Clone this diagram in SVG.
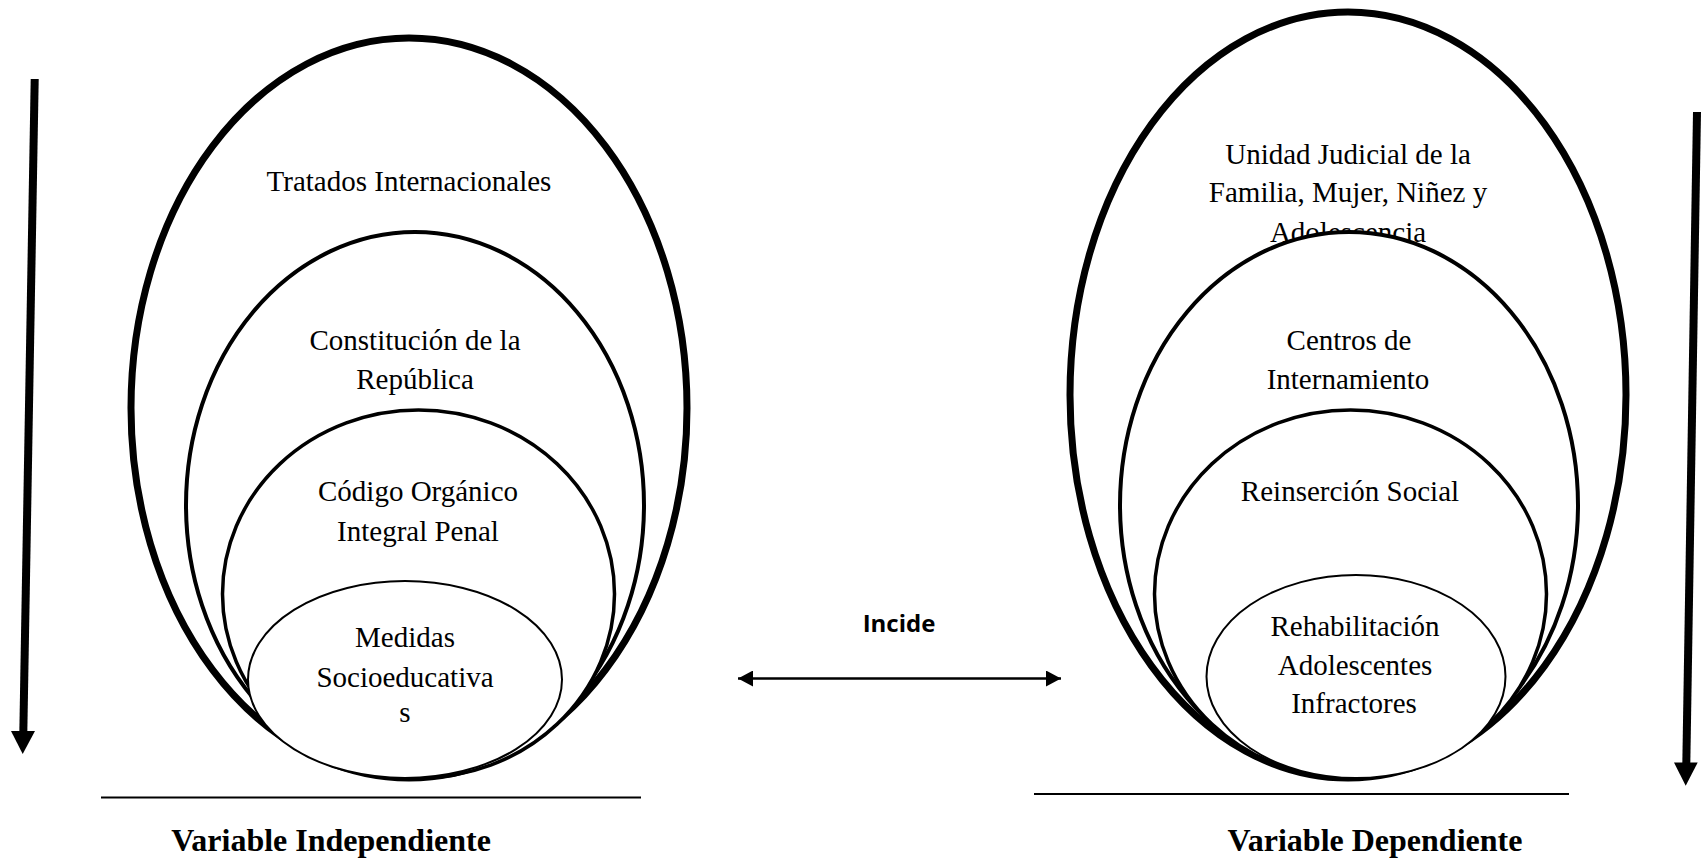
<svg xmlns="http://www.w3.org/2000/svg" width="1708" height="861" viewBox="0 0 1708 861">
<style>
.e{fill:#fff;stroke:#000}
.o{stroke-width:7}
.s{stroke-width:4}
.t3{stroke-width:3.5}
.i{stroke-width:2}
.t{font-family:"Liberation Serif","Times New Roman",serif;font-size:29px;fill:#000;text-anchor:middle}
.b{font-family:"Liberation Serif","Times New Roman",serif;font-size:32px;font-weight:bold;fill:#000;text-anchor:middle}
.c{font-family:"Open Sans","Liberation Sans",sans-serif;font-size:24px;font-weight:bold;fill:#000;text-anchor:middle}
.ln{stroke:#000;fill:none}
</style>
<defs>
<marker id="ah" viewBox="0 0 15 16" refX="15" refY="8" markerWidth="15" markerHeight="16" markerUnits="userSpaceOnUse" orient="auto-start-reverse">
<path d="M0,0 L15,8 L0,16 Z" fill="#000"/>
</marker>
</defs>
<rect width="1708" height="861" fill="#fff"/>

<g id="left">
<g id="tratados">
<ellipse class="e o" cx="409" cy="408" rx="278" ry="370"/>
<text class="t" x="409" y="191">Tratados Internacionales</text>
</g>
<g id="constitucion">
<ellipse class="e s" cx="415" cy="505" rx="229" ry="273"/>
<text class="t" x="415" y="350">Constitución de la</text>
<text class="t" x="415" y="389">República</text>
</g>
<g id="codigo">
<ellipse class="e t3" cx="418.5" cy="594" rx="196" ry="184"/>
<text class="t" x="418" y="501">Código Orgánico</text>
<text class="t" x="418" y="541">Integral Penal</text>
</g>
<g id="medidas">
<ellipse class="e i" cx="405" cy="679.5" rx="157" ry="98.5"/>
<text class="t" x="405" y="647">Medidas</text>
<text class="t" x="405" y="687">Socioeducativa</text>
<text class="t" x="405" y="722">s</text>
</g>
<g id="label-indep">
<text class="b" x="331" y="851">Variable Independiente</text>
</g>
</g>

<g id="right">
<g id="unidad">
<ellipse class="e o" cx="1348" cy="395" rx="278" ry="383"/>
<text class="t" x="1348" y="164">Unidad Judicial de la</text>
<text class="t" x="1348" y="202">Familia, Mujer, Niñez y</text>
<text class="t" x="1348" y="242">Adolescencia</text>
</g>
<g id="centros">
<ellipse class="e s" cx="1349" cy="505" rx="229" ry="273"/>
<text class="t" x="1349" y="350">Centros de</text>
<text class="t" x="1348" y="389">Internamiento</text>
</g>
<g id="reinsercion">
<ellipse class="e t3" cx="1350.5" cy="594" rx="196" ry="184"/>
<text class="t" x="1350" y="501">Reinserción Social</text>
</g>
<g id="rehabilitacion">
<ellipse class="e i" cx="1356" cy="676.5" rx="149.5" ry="101.5"/>
<text class="t" x="1355" y="636">Rehabilitación</text>
<text class="t" x="1355" y="675">Adolescentes</text>
<text class="t" x="1354" y="713">Infractores</text>
</g>
<g id="label-dep">
<text class="b" x="1375" y="851">Variable Dependiente</text>
</g>
</g>

<g id="connectors">
<line class="ln" x1="101" y1="797.5" x2="641" y2="797.5" stroke-width="2"/>
<line class="ln" x1="1034" y1="794" x2="1569" y2="794" stroke-width="2"/>
<line class="ln" x1="34.7" y1="79" x2="23.3" y2="733" stroke-width="8"/>
<polygon points="11,731 35,731 22.7,754" fill="#000"/>
<line class="ln" x1="1697" y1="112" x2="1686.3" y2="764" stroke-width="8"/>
<polygon points="1674,762.5 1697.7,762.5 1685.7,785.7" fill="#000"/>
<line class="ln" x1="738" y1="678.5" x2="1061" y2="678.5" stroke-width="2.7" marker-start="url(#ah)" marker-end="url(#ah)"/>
<text class="c" x="899" y="632">Incide</text>
</g>
</svg>
